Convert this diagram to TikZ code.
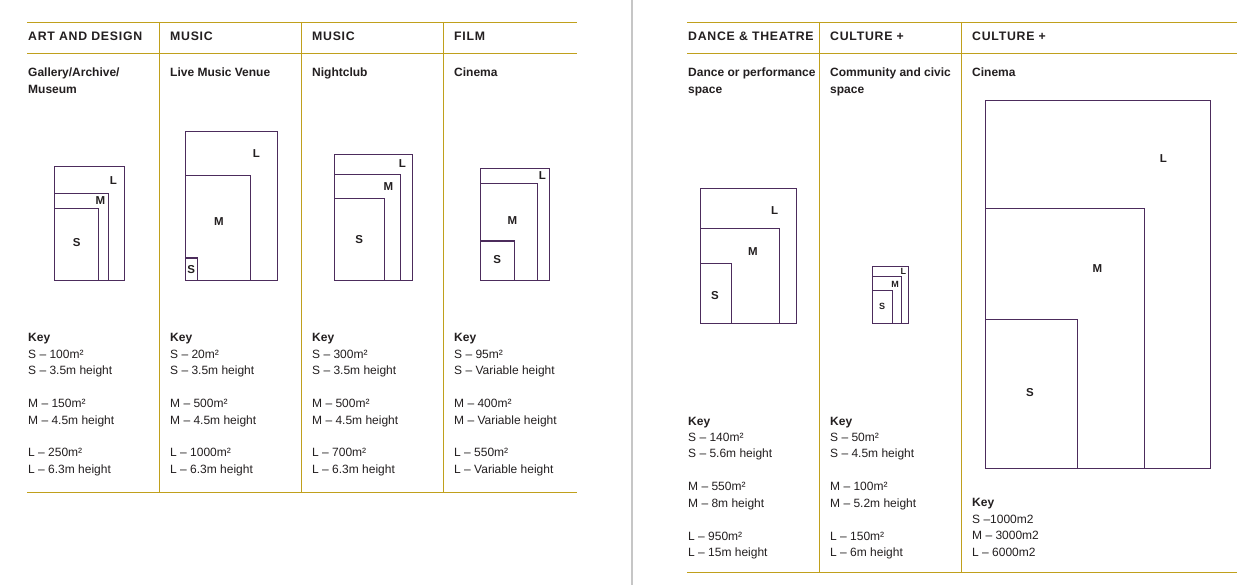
\documentclass[tikz,border=0pt]{standalone}
\usepackage{fontspec}
\setmainfont{Liberation Sans}
\newfontfamily\hdrfont{Liberation Sans}[LetterSpace=6]
\definecolor{goldc}{RGB}{192,160,28}
\definecolor{purp}{RGB}{76,44,92}
\definecolor{txt}{RGB}{35,31,32}
\definecolor{divc}{RGB}{198,198,198}
\begin{document}
\begin{tikzpicture}[x=1pt,y=-1pt,
 gold/.style={draw=goldc,line width=1.3pt},
 box/.style={draw=purp,line width=1.3pt},
 hdr/.style={anchor=base west,inner sep=0pt,text=txt,font=\hdrfont\bfseries\fontsize{12.3}{15}\selectfont},
 sub/.style={anchor=base west,inner sep=0pt,text=txt,align=left,font=\bfseries\fontsize{12}{17}\selectfont},
 keyt/.style={anchor=base west,inner sep=0pt,text=txt,align=left,font=\fontsize{12}{16.4}\selectfont},
 lab/.style={inner sep=0pt,text=txt,font=\bfseries\fontsize{11.5}{13}\selectfont},
 labs/.style={inner sep=0pt,text=txt,font=\bfseries\fontsize{9}{10}\selectfont}]
\useasboundingbox[fill=white] (0,0) rectangle (1256,585);
% divider
\draw[divc,line width=2pt] (632,0) -- (632,585);
% left panel grid
\draw[gold] (27,22.5) -- (577,22.5);
\draw[gold] (27,53.5) -- (577,53.5);
\draw[gold] (27,492.5) -- (577,492.5);
\foreach \x in {159.5,301.5,443.5} \draw[gold] (\x,22) -- (\x,493);
% right panel grid
\draw[gold] (687,22.5) -- (1237,22.5);
\draw[gold] (687,53.5) -- (1237,53.5);
\draw[gold] (687,572.5) -- (1237,572.5);
\foreach \x in {819.5,961.5} \draw[gold] (\x,22) -- (\x,573);
% headers
\node[hdr] (h1) at (28,41) {ART AND DESIGN};
\node[hdr] (h2) at (170,41) {MUSIC};
\node[hdr] (h3) at (312,41) {MUSIC};
\node[hdr] (h4) at (454,41) {FILM};
\node[hdr] (h5) at (688,41) {DANCE \& THEATRE};
\node[hdr] (h6) at (830,41) {CULTURE +};
\node[hdr] (h7) at (972,41) {CULTURE +};
% subtitles (base anchor = last line)
\node[sub] (s1) at (28,94) {Gallery/Archive/\\Museum};
\node[sub] (s2) at (170,77) {Live Music Venue};
\node[sub] (s3) at (312,77) {Nightclub};
\node[sub] (s4) at (454,77) {Cinema};
\node[sub] (s5) at (688,94) {Dance or performance\\space};
\node[sub] (s6) at (830,94) {Community and civic\\space};
\node[sub] (s7) at (972,77) {Cinema};
% keys (base anchor = last line)
\node[keyt] (k1) at (28,473.3) {\textbf{Key}\\S – 100m²\\S – 3.5m height\\[16.5pt]M – 150m²\\M – 4.5m height\\[16.5pt]L – 250m²\\L – 6.3m height};
\node[keyt] (k2) at (170,473.3) {\textbf{Key}\\S – 20m²\\S – 3.5m height\\[16.5pt]M – 500m²\\M – 4.5m height\\[16.5pt]L – 1000m²\\L – 6.3m height};
\node[keyt] (k3) at (312,473.3) {\textbf{Key}\\S – 300m²\\S – 3.5m height\\[16.5pt]M – 500m²\\M – 4.5m height\\[16.5pt]L – 700m²\\L – 6.3m height};
\node[keyt] (k4) at (454,473.3) {\textbf{Key}\\S – 95m²\\S – Variable height\\[16.5pt]M – 400m²\\M – Variable height\\[16.5pt]L – 550m²\\L – Variable height};
\node[keyt] (k5) at (688,556.5) {\textbf{Key}\\S – 140m²\\S – 5.6m height\\[16.5pt]M – 550m²\\M – 8m height\\[16.5pt]L – 950m²\\L – 15m height};
\node[keyt] (k6) at (830,556.5) {\textbf{Key}\\S – 50m²\\S – 4.5m height\\[16.5pt]M – 100m²\\M – 5.2m height\\[16.5pt]L – 150m²\\L – 6m height};
\node[keyt] (k7) at (972,556) {\textbf{Key}\\S –1000m2\\M – 3000m2\\L – 6000m2};
% Art and design
\draw[box] (54.3,166.7) rectangle (124.3,280.3);
\draw[box] (54.3,193.3) rectangle (108.3,280.3);
\draw[box] (54.3,208.3) rectangle (98.7,280.3);
\node[lab] (a1L) at (113.3,180.7) {L};
\node[lab] (a1M) at (100.3,201) {M};
\node[lab] (a1S) at (76.7,242.3) {S};
% Live music venue
\draw[box] (185.3,131.7) rectangle (277.3,280.3);
\draw[box] (185.3,175.7) rectangle (250.3,280.3);
\draw[box] (185.3,258) rectangle (197.3,280.3);
\node[lab] (a2L) at (256.3,154) {L};
\node[lab] (a2M) at (219,221.7) {M};
\node[lab] (a2S) at (191.3,269.3) {S};
% Nightclub
\draw[box] (334.3,154.3) rectangle (412.3,280.3);
\draw[box] (334.3,174.3) rectangle (400.7,280.3);
\draw[box] (334.3,198.7) rectangle (384.3,280.3);
\node[lab] (a3L) at (402.3,163.3) {L};
\node[lab] (a3M) at (388.3,186.7) {M};
\node[lab] (a3S) at (359.3,239.3) {S};
% Cinema (film)
\draw[box] (480.3,168.3) rectangle (549.3,280.3);
\draw[box] (480.3,183.3) rectangle (537.7,280.3);
\draw[box] (480.3,241) rectangle (514.3,280.3);
\node[lab] (a4L) at (542.3,175.7) {L};
\node[lab] (a4M) at (512.3,220.7) {M};
\node[lab] (a4S) at (497.3,259.3) {S};
% Dance
\draw[box] (700.3,188.3) rectangle (796.3,323.3);
\draw[box] (700.3,228.3) rectangle (779.3,323.3);
\draw[box] (700.3,263.3) rectangle (731.3,323.3);
\node[lab] (a5L) at (774.7,211) {L};
\node[lab] (a5M) at (753,251.7) {M};
\node[lab] (a5S) at (715,295.3) {S};
% Community
\draw[box] (872.3,266.3) rectangle (908.3,323.3);
\draw[box] (872.3,276.3) rectangle (901.3,323.3);
\draw[box] (872.3,290.3) rectangle (892.3,323.3);
\node[labs] (a6L) at (903.3,271.3) {L};
\node[labs] (a6M) at (895,284) {M};
\node[labs] (a6S) at (882,306.7) {S};
% Cinema (culture)
\draw[box] (985.3,100.7) rectangle (1210.3,468.3);
\draw[box] (985.3,208.3) rectangle (1144.3,468.3);
\draw[box] (985.3,319.3) rectangle (1077.3,468.3);
\node[lab] (a7L) at (1163.3,159) {L};
\node[lab] (a7M) at (1097.3,269) {M};
\node[lab] (a7S) at (1030,392.3) {S};
\end{tikzpicture}
\end{document}
